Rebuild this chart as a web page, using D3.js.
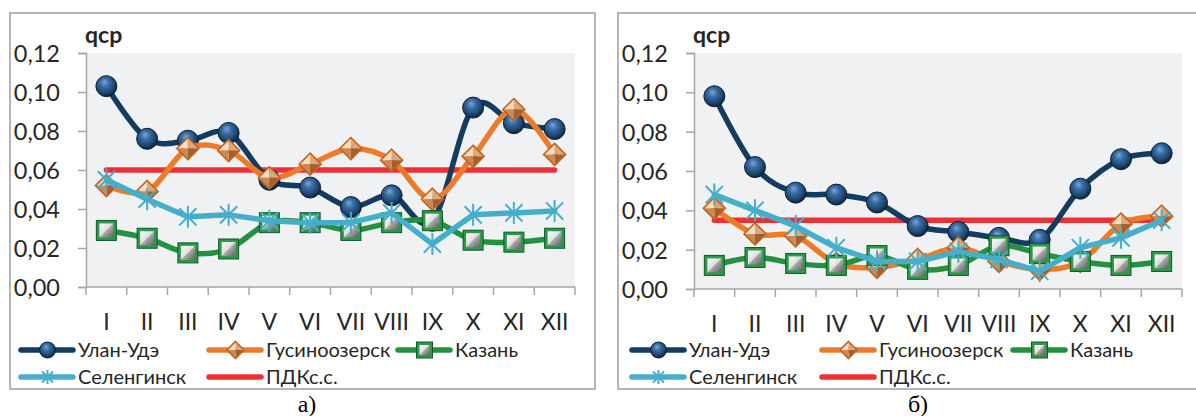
<!DOCTYPE html>
<html><head><meta charset="utf-8">
<script src="https://cdn.jsdelivr.net/npm/d3@7"></script>
<style>body{margin:0;background:#fff}svg{display:block}</style>
</head><body>
<svg id="c" width="1196" height="416"></svg>
<script>
// ---------- data ----------
const months = ["I","II","III","IV","V","VI","VII","VIII","IX","X","XI","XII"];
const yTicks = [0, 0.02, 0.04, 0.06, 0.08, 0.10, 0.12];
const seriesNames = ["Улан-Удэ","Гусиноозерск","Казань","Селенгинск","ПДКс.с."];
const captions = ["а)","б)"];
const axisTitle = "qcp";

// panel а)
const ulanUdeA     = [0.103,0.076,0.075,0.079,0.055,0.051,0.041,0.047,0.034,0.092,0.084,0.081];
const gusinoA      = [0.052,0.049,0.071,0.070,0.056,0.063,0.071,0.065,0.045,0.067,0.091,0.068];
const kazanA       = [0.029,0.025,0.0175,0.0195,0.033,0.033,0.029,0.033,0.034,0.024,0.023,0.025];
const selenginskA  = [0.055,0.045,0.036,0.037,0.034,0.033,0.033,0.038,0.022,0.037,0.038,0.039];
const pdkA         = [0.06,0.06,0.06,0.06,0.06,0.06,0.06,0.06,0.06,0.06,0.06,0.06];

// panel б)
const ulanUdeB     = [0.098,0.062,0.049,0.048,0.044,0.032,0.029,0.026,0.025,0.051,0.066,0.069];
const gusinoB      = [0.041,0.028,0.027,0.013,0.011,0.015,0.021,0.014,0.010,0.014,0.033,0.037];
const kazanB       = [0.012,0.016,0.013,0.012,0.017,0.010,0.012,0.022,0.018,0.014,0.012,0.014];
const selenginskB  = [0.048,0.040,0.032,0.021,0.014,0.014,0.019,0.015,0.009,0.021,0.026,0.035];
const pdkB         = [0.035,0.035,0.035,0.035,0.035,0.035,0.035,0.035,0.035,0.035,0.035,0.035];

// ---------- styling ----------
const COL = {uu:"#143c60", gu:"#ee7b2a", kz:"#23913f", sl:"#45afcb", pdk:"#ee3033"};
const FONT = "Lato, 'Open Sans', sans-serif";

const svg = d3.select("#c");
const defs = svg.append("defs");

const rg = defs.append("radialGradient").attr("id","sph")
  .attr("cx","45%").attr("cy","40%").attr("r","60%").attr("fx","40%").attr("fy","30%");
[["0%","#7aa6d6"],["35%","#3a6da3"],["75%","#1d4670"],["100%","#0c223c"]]
  .forEach(([o,c])=>rg.append("stop").attr("offset",o).attr("stop-color",c));
const sg = defs.append("linearGradient").attr("id","sqg")
  .attr("x1","0").attr("y1","0").attr("x2","1").attr("y2","1");
[["0%","#ffffff"],["48%","#dedede"],["52%","#a9a9a9"],["100%","#606060"]]
  .forEach(([o,c])=>sg.append("stop").attr("offset",o).attr("stop-color",c));

function sphere(g, x, y, r){
  g.append("circle").attr("cx",x).attr("cy",y).attr("r",r)
   .attr("fill","url(#sph)").attr("stroke","#0b2036").attr("stroke-width",1);
}
function diamond(g, x, y, s){
  const gg = g.append("g").attr("transform",`translate(${x},${y})`);
  const tris = [
    [[0,-s],[-s,0],[0,0],"#f7dcc0"],
    [[0,-s],[s,0],[0,0],"#dca77a"],
    [[s,0],[0,s],[0,0],"#a45f2c"],
    [[-s,0],[0,s],[0,0],"#c98a55"]
  ];
  tris.forEach(t=>gg.append("path")
    .attr("d",`M${t[0][0]},${t[0][1]}L${t[1][0]},${t[1][1]}L${t[2][0]},${t[2][1]}Z`)
    .attr("fill",t[3]));
  gg.append("path").attr("d",`M0,${-s}L${s},0L0,${s}L${-s},0Z`)
    .attr("fill","none").attr("stroke","#c0641f").attr("stroke-width",1.6);
}
function square(g, x, y, s){
  g.append("rect").attr("x",x-s).attr("y",y-s).attr("width",2*s).attr("height",2*s)
   .attr("fill","#2a9a48").attr("stroke","#12592a").attr("stroke-width",1);
  const i = s-3;
  g.append("rect").attr("x",x-i).attr("y",y-i).attr("width",2*i).attr("height",2*i)
   .attr("fill","url(#sqg)");
}
function star(g, x, y, r){
  const d = r*0.78;
  g.append("path")
   .attr("d",`M${x},${y-r}L${x},${y+r}M${x-d},${y-d}L${x+d},${y+d}M${x+d},${y-d}L${x-d},${y+d}`)
   .attr("stroke",COL.sl).attr("stroke-width",2).attr("fill","none");
}

// ---------- panels ----------
const panels = [
  {frameX:10,  frameW:585, left:86,  right:575,  top:53, bottom:287, data:[ulanUdeA,gusinoA,kazanA,selenginskA,pdkA],
   cap:captions[0], capX:307, legX:[20,208,397]},
  {frameX:618, frameW:590, left:694, right:1182, top:53, bottom:289, data:[ulanUdeB,gusinoB,kazanB,selenginskB,pdkB],
   cap:captions[1], capX:918, legX:[631,821,1012]}
];

panels.forEach(p=>{
  const g = svg.append("g");
  g.append("rect").attr("x",p.frameX).attr("y",13).attr("width",p.frameW).attr("height",376)
   .attr("fill","#fff").attr("stroke","#a3a3a3").attr("stroke-width",1.6);
  g.append("rect").attr("x",p.left).attr("y",p.top).attr("width",p.right-p.left).attr("height",p.bottom-p.top)
   .attr("fill","#f0f1f3");

  const x = d3.scaleBand().domain(months).range([p.left,p.right]).padding(0);
  const y = d3.scaleLinear().domain([0,0.12]).range([p.bottom,p.top]);
  const cx = m => x(m) + x.bandwidth()/2;

  const ya = g.append("g").attr("transform",`translate(${p.left},0)`)
    .call(d3.axisLeft(y).tickValues(yTicks).tickSize(8).tickPadding(0)
      .tickFormat(v=>d3.format(".2f")(v).replace(".",",")));
  ya.select(".domain").attr("stroke","#a6a6a6").attr("stroke-width",1.5);
  ya.selectAll(".tick line").attr("stroke","#a6a6a6").attr("stroke-width",1.5);
  ya.selectAll(".tick text").attr("x",-26).attr("dy","0.36em")
    .attr("font-family",FONT).attr("font-size",23.5).attr("fill","#262626");

  g.append("line").attr("x1",p.left).attr("x2",p.right).attr("y1",p.bottom).attr("y2",p.bottom)
    .attr("stroke","#a6a6a6").attr("stroke-width",1.5);
  const bounds = months.map(m=>x(m)).concat([x.range()[1]]);
  g.selectAll(null).data(bounds).enter().append("line")
    .attr("x1",d=>d).attr("x2",d=>d).attr("y1",p.bottom).attr("y2",p.bottom+8)
    .attr("stroke","#a6a6a6").attr("stroke-width",1.5);
  g.selectAll(null).data(months).enter().append("text")
    .attr("x",d=>cx(d)).attr("y",p.bottom+43).attr("text-anchor","middle")
    .attr("font-family",FONT).attr("font-size",23).attr("fill","#262626").text(d=>d);

  g.append("text").attr("x",p.left-1).attr("y",43).attr("font-family",FONT)
   .attr("font-weight","bold").attr("font-size",23).attr("fill","#262626").text(axisTitle);

  const smooth = d3.line().x((d,i)=>cx(months[i])).y(d=>y(d)).curve(d3.curveCardinal.tension(0));
  const straight = d3.line().x((d,i)=>cx(months[i])).y(d=>y(d));
  const lineStyle = (sel,c)=>sel.attr("fill","none").attr("stroke",c).attr("stroke-width",5.5)
      .attr("stroke-linecap","round").attr("stroke-linejoin","round");

  const [uu,gu,kz,sl,pdk] = p.data;
  lineStyle(g.append("path").attr("d",straight(pdk)), COL.pdk);
  lineStyle(g.append("path").attr("d",smooth(uu)), COL.uu);
  uu.forEach((v,i)=>sphere(g,cx(months[i]),y(v),10.5));
  lineStyle(g.append("path").attr("d",smooth(gu)), COL.gu);
  gu.forEach((v,i)=>diamond(g,cx(months[i]),y(v),11));
  lineStyle(g.append("path").attr("d",smooth(kz)), COL.kz);
  kz.forEach((v,i)=>square(g,cx(months[i]),y(v),10));
  lineStyle(g.append("path").attr("d",straight(sl)), COL.sl);
  sl.forEach((v,i)=>star(g,cx(months[i]),y(v),11));

  // legend
  const rows = [350, 377];
  const items = [
    {name:seriesNames[0], c:COL.uu, col:0, row:0, mk:(gx,gy)=>sphere(g,gx,gy,8)},
    {name:seriesNames[1], c:COL.gu, col:1, row:0, mk:(gx,gy)=>diamond(g,gx,gy,8.5)},
    {name:seriesNames[2], c:COL.kz, col:2, row:0, mk:(gx,gy)=>square(g,gx,gy,8)},
    {name:seriesNames[3], c:COL.sl, col:0, row:1, mk:(gx,gy)=>star(g,gx,gy,7)},
    {name:seriesNames[4], c:COL.pdk, col:1, row:1, mk:null}
  ];
  items.forEach(it=>{
    const lx = p.legX[it.col], ly = rows[it.row];
    lineStyle(g.append("line").attr("x1",lx+1).attr("x2",lx+53).attr("y1",ly).attr("y2",ly), it.c);
    if(it.mk) it.mk(lx+27.5, ly);
    g.append("text").attr("x",lx+58).attr("y",ly+6.5).attr("font-family",FONT)
     .attr("font-size",20).attr("fill","#262626").text(it.name);
  });

  svg.append("text").attr("x",p.capX).attr("y",412).attr("text-anchor","middle")
   .attr("font-family","'Liberation Serif', 'Times New Roman', serif").attr("font-size",24)
   .attr("fill","#000").text(p.cap);
});
</script>
</body></html>
